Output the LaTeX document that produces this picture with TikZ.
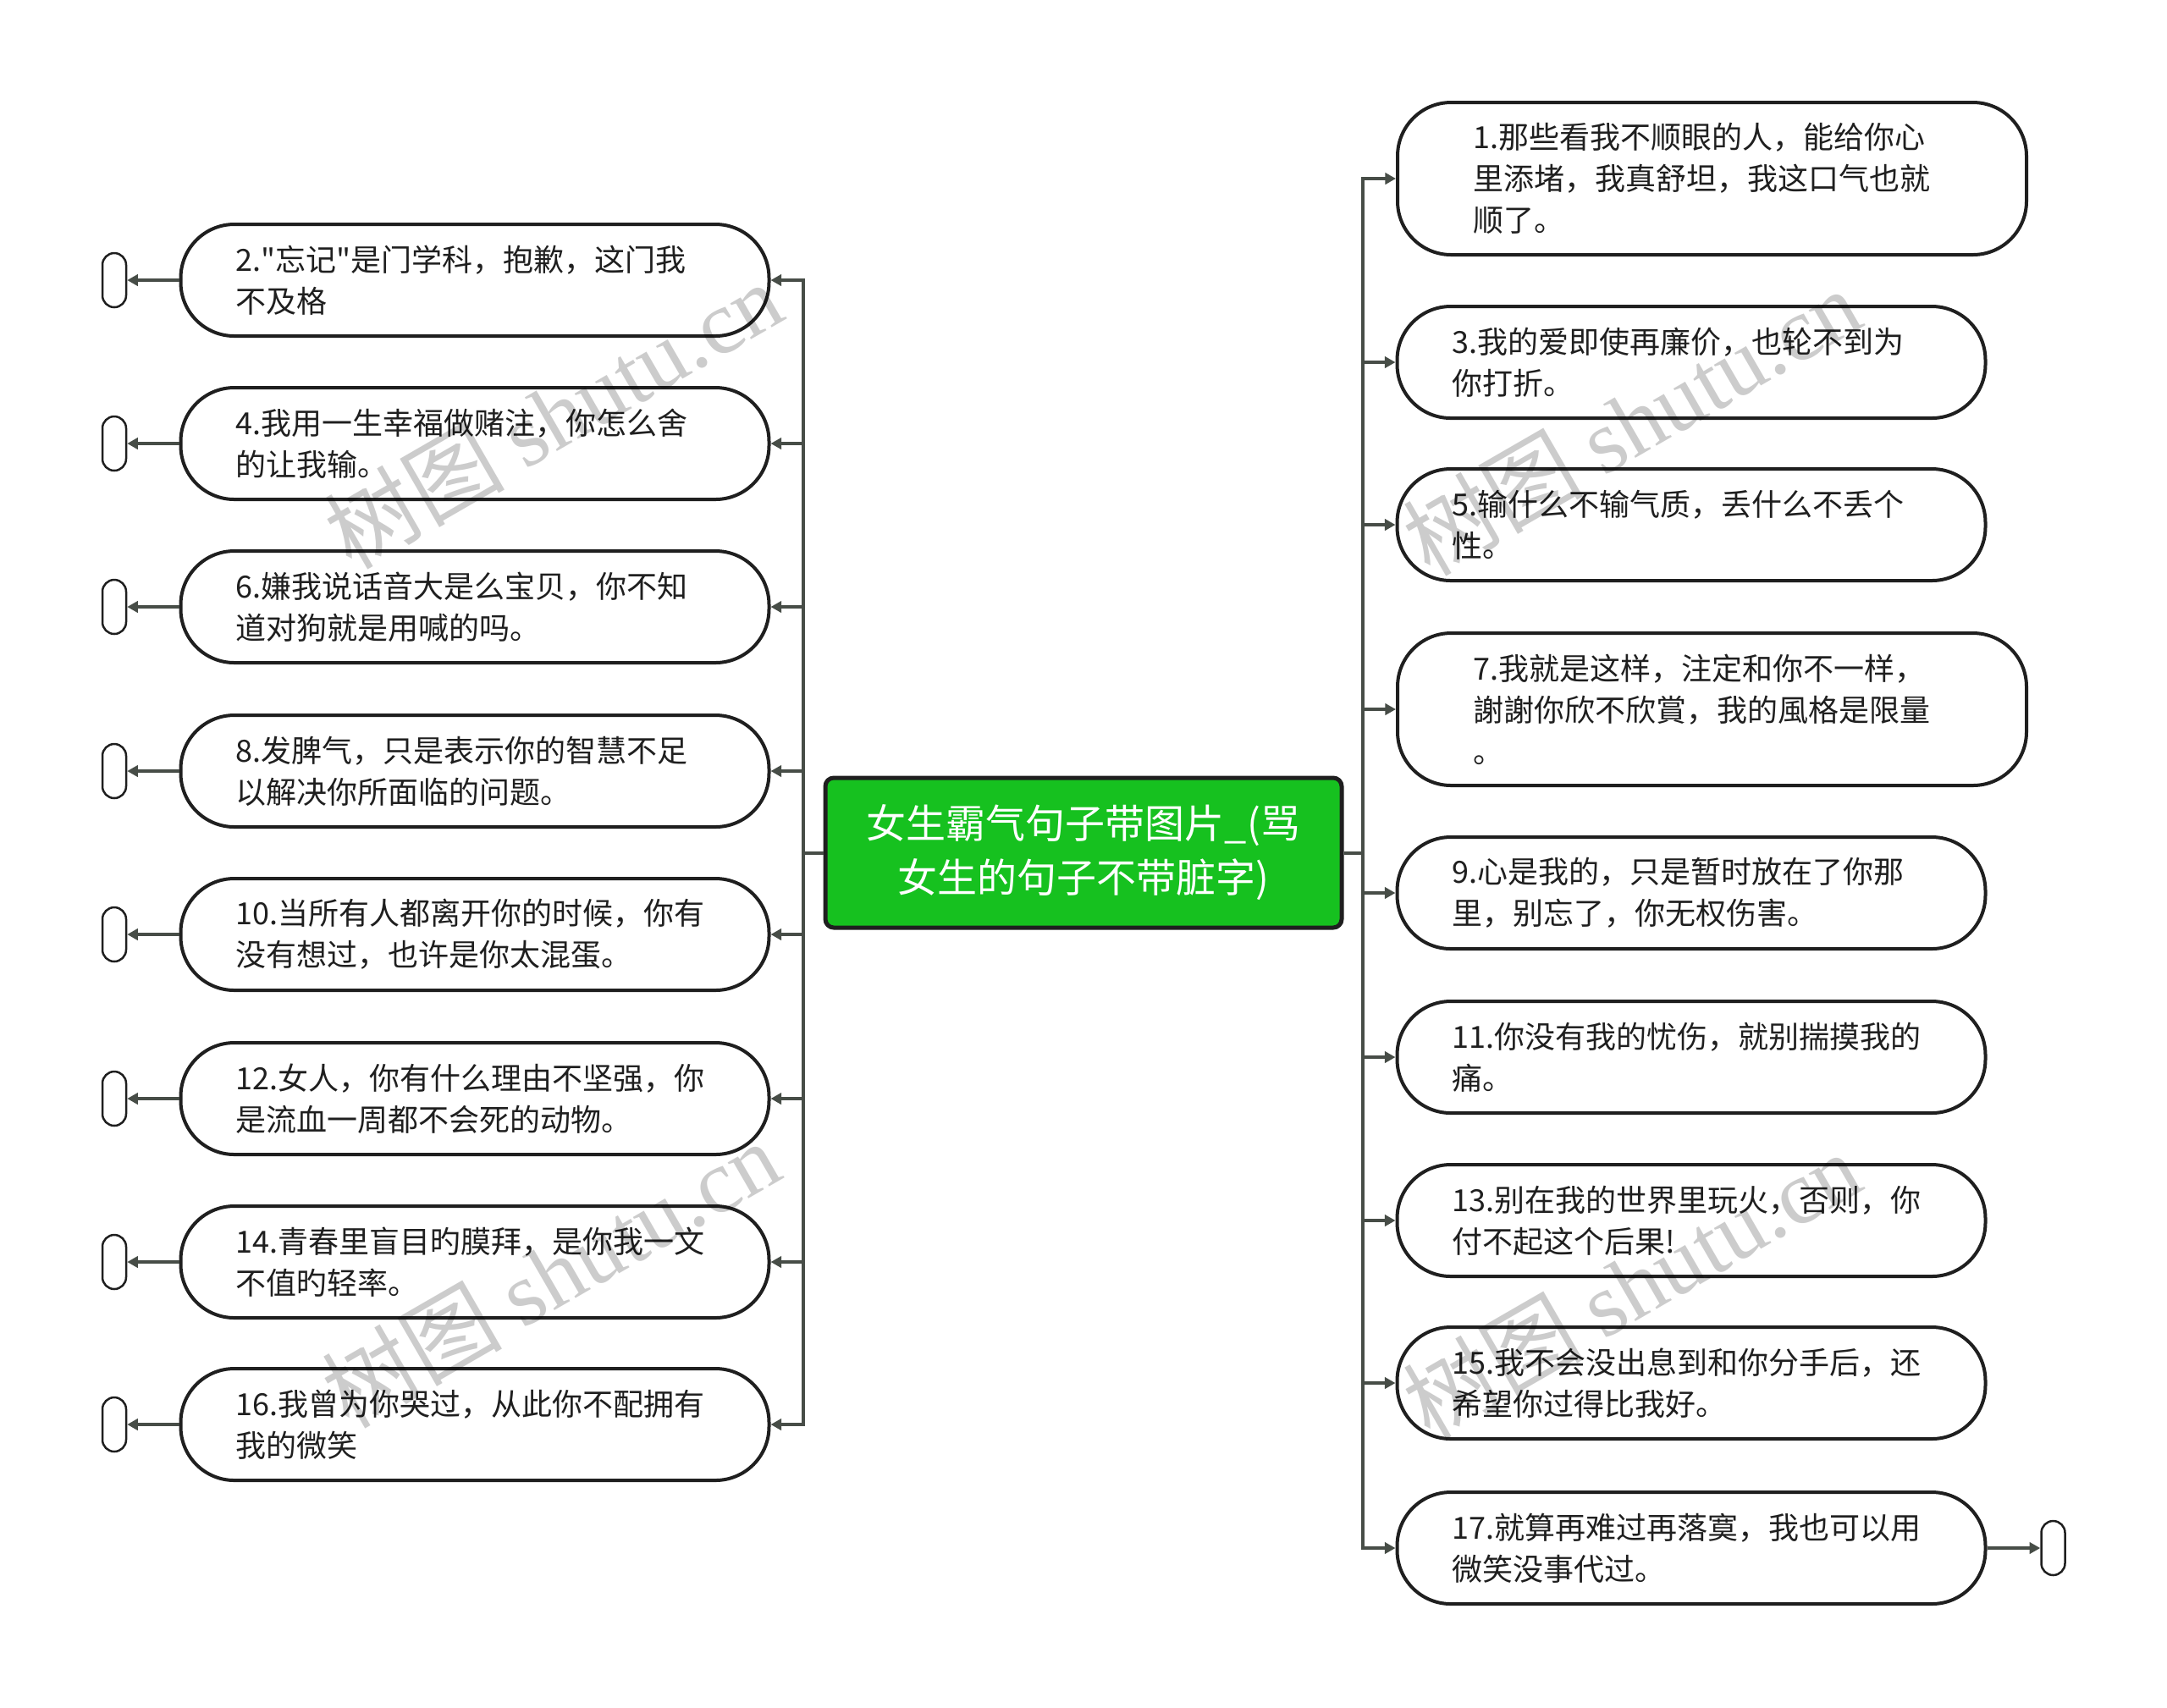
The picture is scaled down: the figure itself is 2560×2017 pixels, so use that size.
\documentclass[tikz,border=0pt]{standalone}
\usepackage{fontspec}
\setmainfont{Noto Sans CJK SC}
\newfontfamily\wmfont{Liberation Serif}
\usetikzlibrary{arrows.meta}
\definecolor{Ink}{HTML}{1F1F1F}
\definecolor{Wire}{HTML}{474D47}
\definecolor{RootGreen}{HTML}{16C11F}

\tikzset{
  leaf/.style={draw=Ink,line width=1.2pt,fill=white,rounded corners=19pt,
    text width=169.5pt,align=left,inner xsep=19.5pt,minimum height=39.6pt,
    font=\fontsize{10.8}{14.7}\selectfont,text=Ink},
  wideleaf/.style={leaf,inner xsep=26.7pt,minimum height=54pt},
  rootbox/.style={draw=Ink,line width=1.5pt,fill=RootGreen,rounded corners=3pt,
    minimum width=183pt,minimum height=53.1pt,align=center,text=white,
    font=\fontsize{14.1}{19.2}\selectfont},
  stub/.style={draw=Ink,line width=0.75pt,fill=white,rounded corners=4.2pt,
    minimum width=8.4pt,minimum height=19.2pt,inner sep=0pt},
  wire/.style={draw=Wire,line width=1.2pt},
  tip/.style={wire,-{Triangle[length=3.8pt,width=4pt]}},
  wmark/.style={rotate=30,font=\fontsize{32}{32}\selectfont,text=black,opacity=0.2}
}

\begin{document}
\begin{tikzpicture}[x=0.3pt,y=-0.3pt]
\path[use as bounding box] (0,0) rectangle (2560,2017);
% centre
\node[rootbox] (root) at (1280,1007.5) {女生霸气句子带图片\_(骂\\女生的句子不带脏字)};
\coordinate (ltrunk) at (949,1007.5);
\coordinate (rtrunk) at (1610,1007.5);
% left side
\node[leaf] (n2) at (561,331) {2.\textquotedbl 忘记\textquotedbl 是门学科，抱歉，这门我\\不及格};
\node[leaf] (n4) at (561,524) {4.我用一生幸福做赌注，你怎么舍\\的让我输。};
\node[leaf] (n6) at (561,717) {6.嫌我说话音大是么宝贝，你不知\\道对狗就是用喊的吗。};
\node[leaf] (n8) at (561,911) {8.发脾气，只是表示你的智慧不足\\以解决你所面临的问题。};
\node[leaf] (n10) at (561,1104) {10.当所有人都离开你的时候，你有\\没有想过，也许是你太混蛋。};
\node[leaf] (n12) at (561,1298) {12.女人，你有什么理由不坚强，你\\是流血一周都不会死的动物。};
\node[leaf] (n14) at (561,1491) {14.青春里盲目旳膜拜，是你我一文\\不值旳轻率。};
\node[leaf] (n16) at (561,1683) {16.我曾为你哭过，从此你不配拥有\\我的微笑};
\node[stub] (s2) at (135,331) {};
\node[stub] (s4) at (135,524) {};
\node[stub] (s6) at (135,717) {};
\node[stub] (s8) at (135,911) {};
\node[stub] (s10) at (135,1104) {};
\node[stub] (s12) at (135,1298) {};
\node[stub] (s14) at (135,1491) {};
\node[stub] (s16) at (135,1683) {};
% right side
\node[wideleaf] (n1) at (2022.5,211) {1.那些看我不顺眼的人，能给你心\\里添堵，我真舒坦，我这口气也就\\顺了。};
\node[leaf] (n3) at (1998,428) {3.我的爱即使再廉价，也轮不到为\\你打折。};
\node[leaf] (n5) at (1998,620) {5.输什么不输气质，丢什么不丢个\\性。};
\node[wideleaf] (n7) at (2022.5,838) {7.我就是这样，注定和你不一样，\\謝謝你欣不欣賞，我的風格是限量\\。};
\node[leaf] (n9) at (1998,1055) {9.心是我的，只是暂时放在了你那\\里，别忘了，你无权伤害。};
\node[leaf] (n11) at (1998,1249) {11.你没有我的忧伤，就别揣摸我的\\痛。};
\node[leaf] (n13) at (1998,1442) {13.别在我的世界里玩火，否则，你\\付不起这个后果!};
\node[leaf] (n15) at (1998,1634) {15.我不会没出息到和你分手后，还\\希望你过得比我好。};
\node[leaf] (n17) at (1998,1829) {17.就算再难过再落寞，我也可以用\\微笑没事代过。};
\node[stub] (s17) at (2425.5,1829) {};
% connectors
\draw[wire] (root.west) -- (ltrunk);
\draw[wire] (root.east) -- (rtrunk);
\foreach \n in {2,4,6,8,10,12,14,16}{
  \draw[tip] (ltrunk) |- (n\n.east);
  \draw[tip] (n\n.west) -- (s\n.east);
}
\foreach \n in {1,3,5,7,9,11,13,15,17}{
  \draw[tip] (rtrunk) |- (n\n.west);
}
\draw[tip] (n17.east) -- (s17.west);
% watermarks
\node[wmark] (wm1) at (653,490) {树图 {\wmfont shutu.cn}};
\node[wmark] (wm2) at (650,1505) {树图 {\wmfont shutu.cn}};
\node[wmark] (wm3) at (1927,498) {树图 {\wmfont shutu.cn}};
\node[wmark] (wm4) at (1927,1518) {树图 {\wmfont shutu.cn}};
\end{tikzpicture}
\end{document}
